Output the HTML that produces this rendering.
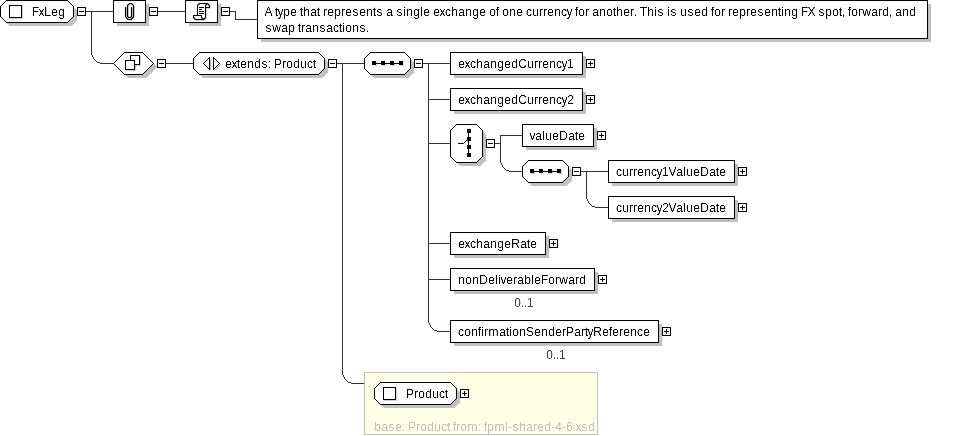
<!DOCTYPE html>
<html lang="en">
<head>
<meta charset="utf-8">
<title>FxLeg</title>
<style>
html,body{margin:0;padding:0;background:#fff;}
body{width:969px;height:436px;overflow:hidden;}
svg{display:block;}
svg text{font-family:"Liberation Sans",Arial,Helvetica,sans-serif;font-size:12px;}
</style>
</head>
<body>
<svg width="969" height="436" viewBox="0 0 969 436">
<defs><filter id="al" x="0" y="0" width="100%" height="100%" filterUnits="userSpaceOnUse" color-interpolation-filters="sRGB"><feComponentTransfer><feFuncA type="table" tableValues="0 0 0.5 1 1"/></feComponentTransfer></filter></defs>
<rect x="0" y="0" width="969" height="436" fill="#fff"/>
<rect x="86" y="11" width="27" height="1" fill="#333" shape-rendering="crispEdges"/>
<rect x="158" y="11" width="27" height="1" fill="#333" shape-rendering="crispEdges"/>
<path d="M230,11.5 H235.5 V19.5 H257" fill="none" stroke="#333" shape-rendering="crispEdges"/>
<path d="M91,12h1v43h-1zM92,55h1v2h-1zM93,57h1v2h-1zM94,59h1v1h-1zM95,60h1v1h-1zM96,61h1v1h-1zM97,62h3v1h-3zM100,63h13v1h-13z" fill="#333" shape-rendering="crispEdges"/>
<rect x="166" y="63" width="27" height="1" fill="#333" shape-rendering="crispEdges"/>
<rect x="337" y="63" width="27" height="1" fill="#333" shape-rendering="crispEdges"/>
<path d="M342,64h1v311h-1zM343,375h1v2h-1zM344,377h1v2h-1zM345,379h1v1h-1zM346,380h1v1h-1zM347,381h1v1h-1zM348,382h3v1h-3zM351,383h13v1h-13z" fill="#333" shape-rendering="crispEdges"/>
<rect x="423" y="63" width="27" height="1" fill="#333" shape-rendering="crispEdges"/>
<rect x="428" y="99" width="22" height="1" fill="#333" shape-rendering="crispEdges"/>
<rect x="428" y="143" width="22" height="1" fill="#333" shape-rendering="crispEdges"/>
<rect x="428" y="243" width="22" height="1" fill="#333" shape-rendering="crispEdges"/>
<rect x="428" y="279" width="22" height="1" fill="#333" shape-rendering="crispEdges"/>
<path d="M428,64h1v259h-1zM429,323h1v2h-1zM430,325h1v2h-1zM431,327h1v1h-1zM432,328h1v1h-1zM433,329h1v1h-1zM434,330h3v1h-3zM437,331h13v1h-13z" fill="#333" shape-rendering="crispEdges"/>
<rect x="495" y="143" width="6" height="1" fill="#333" shape-rendering="crispEdges"/>
<rect x="500" y="135" width="22" height="1" fill="#333" shape-rendering="crispEdges"/>
<path d="M500,135h1v28h-1zM501,163h1v2h-1zM502,165h1v2h-1zM503,167h1v1h-1zM504,168h1v1h-1zM505,169h1v1h-1zM506,170h3v1h-3zM509,171h13v1h-13z" fill="#333" shape-rendering="crispEdges"/>
<rect x="581" y="171" width="27" height="1" fill="#333" shape-rendering="crispEdges"/>
<path d="M586,172h1v27h-1zM587,199h1v2h-1zM588,201h1v2h-1zM589,203h1v1h-1zM590,204h1v1h-1zM591,205h1v1h-1zM592,206h3v1h-3zM595,207h13v1h-13z" fill="#333" shape-rendering="crispEdges"/>
<polygon points="10,4 70.5,4 77,10.5 77,20.5 71.5,26 10,26 4,20 4,10" fill="#c0c0c0"/>
<polygon points="6.5,0.5 67.5,0.5 73.5,6.5 73.5,16.5 67.5,22.5 6.5,22.5 0.5,16.5 0.5,6.5" fill="#fff" stroke="#000" stroke-width="1" shape-rendering="crispEdges"/>
<rect x="10.5" y="6.5" width="12" height="12" fill="none" stroke="#d0d0d0" shape-rendering="crispEdges"/>
<rect x="9.5" y="5.5" width="12" height="12" fill="#fff" stroke="#000" shape-rendering="crispEdges"/>
<rect x="77.5" y="7.5" width="8" height="8" fill="#fff" stroke="#000" shape-rendering="crispEdges"/>
<rect x="79" y="11" width="5" height="1" fill="#000" shape-rendering="crispEdges"/>
<rect x="117" y="4" width="32" height="22" fill="#c0c0c0" shape-rendering="crispEdges"/>
<rect x="113.5" y="0.5" width="32" height="22" fill="#fff" stroke="#000" stroke-width="1" shape-rendering="crispEdges"/>
<rect x="149.5" y="7.5" width="8" height="8" fill="#fff" stroke="#000" shape-rendering="crispEdges"/>
<rect x="151" y="11" width="5" height="1" fill="#000" shape-rendering="crispEdges"/>
<rect x="189" y="4" width="32" height="22" fill="#c0c0c0" shape-rendering="crispEdges"/>
<rect x="185.5" y="0.5" width="32" height="22" fill="#fff" stroke="#000" stroke-width="1" shape-rendering="crispEdges"/>
<rect x="221.5" y="7.5" width="8" height="8" fill="#fff" stroke="#000" shape-rendering="crispEdges"/>
<rect x="223" y="11" width="5" height="1" fill="#000" shape-rendering="crispEdges"/>
<rect x="261" y="4" width="670" height="38" fill="#c0c0c0" shape-rendering="crispEdges"/>
<rect x="257.5" y="0.5" width="670" height="38" fill="#fff" stroke="#000" stroke-width="1" shape-rendering="crispEdges"/>
<path d="M125.5,7 V16.5 L128,19.5 H131 L133.5,17 V5.5 L131.5,3.5 H129.5 L127.5,5.5 V16.5 L128.5,17.5 H130.5 L131.5,16.5 V7" transform="translate(1,1)" fill="none" stroke="#d4d4d4" stroke-width="1"/>
<path d="M125.5,7 V16.5 L128,19.5 H131 L133.5,17 V5.5 L131.5,3.5 H129.5 L127.5,5.5 V16.5 L128.5,17.5 H130.5 L131.5,16.5 V7" fill="none" stroke="#000" stroke-width="1.15"/>
<path d="M199.5,3.5 H207.5 L209.5,5.5 V7.5 H205.5 V17.5 L203.5,19.5 H195.5 L193.5,17.5 V15.5 H197.5 V5.5 Z" transform="translate(1,1)" fill="#d4d4d4" stroke="#d4d4d4" stroke-width="1"/>
<path d="M199.5,3.5 H207.5 L209.5,5.5 V7.5 H205.5 V17.5 L203.5,19.5 H195.5 L193.5,17.5 V15.5 H197.5 V5.5 Z" fill="#fff" stroke="#000" stroke-width="1.1" stroke-linejoin="round"/>
<path d="M205.5,7.5 V5.5 L207.5,3.5 M197.5,15.5 H201.5 V17.5 L203.5,19.5" fill="none" stroke="#000" stroke-width="1.1" stroke-linejoin="round"/>
<rect x="199" y="7" width="5" height="1" fill="#000" shape-rendering="crispEdges"/>
<rect x="199" y="9" width="3" height="1" fill="#000" shape-rendering="crispEdges"/>
<rect x="199" y="11" width="5" height="1" fill="#000" shape-rendering="crispEdges"/>
<rect x="199" y="13" width="5" height="1" fill="#000" shape-rendering="crispEdges"/>
<polygon points="117,67.0 128.0,56 145.5,56 157,66.5 157,67.5 146.5,78 128.0,78" fill="#c0c0c0"/>
<polygon points="113.5,63.5 124.5,52.5 142.5,52.5 153.5,63.5 142.5,74.5 124.5,74.5" fill="#fff" stroke="#000" shape-rendering="crispEdges"/>
<rect x="131.5" y="56.5" width="9" height="9" fill="none" stroke="#d0d0d0" shape-rendering="crispEdges"/>
<rect x="130.5" y="55.5" width="9" height="9" fill="#fff" stroke="#000" shape-rendering="crispEdges"/>
<path d="M135.5,65.5 V70.5 H126.5" fill="none" stroke="#d0d0d0" shape-rendering="crispEdges"/>
<rect x="125.5" y="60.5" width="9" height="9" fill="#fff" stroke="#000" shape-rendering="crispEdges"/>
<rect x="157.5" y="59.5" width="8" height="8" fill="#fff" stroke="#000" shape-rendering="crispEdges"/>
<rect x="159" y="63" width="5" height="1" fill="#000" shape-rendering="crispEdges"/>
<polygon points="203,56 321.5,56 328,62.5 328,72.5 322.5,78 203,78 197,72 197,62" fill="#c0c0c0"/>
<polygon points="199.5,52.5 318.5,52.5 324.5,58.5 324.5,68.5 318.5,74.5 199.5,74.5 193.5,68.5 193.5,58.5" fill="#fff" stroke="#000" stroke-width="1" shape-rendering="crispEdges"/>
<path d="M210.5,58.5 V70.5 M220.7,64.7 L214.7,70.7" fill="none" stroke="#bcbcbc" stroke-width="1.2"/>
<polygon points="203.5,63.5 209.5,57.5 209.5,69.5" fill="#fff" stroke="#000" shape-rendering="crispEdges"/>
<polygon points="213.5,57.5 219.5,63.5 213.5,69.5" fill="#fff" stroke="#000" shape-rendering="crispEdges"/>
<rect x="328.5" y="59.5" width="8" height="8" fill="#fff" stroke="#000" shape-rendering="crispEdges"/>
<rect x="330" y="63" width="5" height="1" fill="#000" shape-rendering="crispEdges"/>
<polygon points="374,56 407.5,56 414,62.5 414,72.5 408.5,78 374,78 368,72 368,62" fill="#c0c0c0"/>
<polygon points="370.5,52.5 404.5,52.5 410.5,58.5 410.5,68.5 404.5,74.5 370.5,74.5 364.5,68.5 364.5,58.5" fill="#fff" stroke="#000" stroke-width="1" shape-rendering="crispEdges"/>
<rect x="373" y="62" width="4" height="4" fill="#d8d8d8" shape-rendering="crispEdges"/>
<rect x="382" y="62" width="4" height="4" fill="#d8d8d8" shape-rendering="crispEdges"/>
<rect x="391" y="62" width="4" height="4" fill="#d8d8d8" shape-rendering="crispEdges"/>
<rect x="400" y="62" width="4" height="4" fill="#d8d8d8" shape-rendering="crispEdges"/>
<rect x="373" y="63" width="30" height="1" fill="#000" shape-rendering="crispEdges"/>
<rect x="372" y="61" width="4" height="4" fill="#000" shape-rendering="crispEdges"/>
<rect x="381" y="61" width="4" height="4" fill="#000" shape-rendering="crispEdges"/>
<rect x="390" y="61" width="4" height="4" fill="#000" shape-rendering="crispEdges"/>
<rect x="399" y="61" width="4" height="4" fill="#000" shape-rendering="crispEdges"/>
<rect x="414.5" y="59.5" width="8" height="8" fill="#fff" stroke="#000" shape-rendering="crispEdges"/>
<rect x="416" y="63" width="5" height="1" fill="#000" shape-rendering="crispEdges"/>
<rect x="454" y="56" width="132" height="22" fill="#c0c0c0" shape-rendering="crispEdges"/>
<rect x="450.5" y="52.5" width="132" height="22" fill="#fff" stroke="#000" stroke-width="1" shape-rendering="crispEdges"/>
<rect x="586.5" y="59.5" width="8" height="8" fill="#fff" stroke="#000" shape-rendering="crispEdges"/>
<rect x="588" y="63" width="5" height="1" fill="#000" shape-rendering="crispEdges"/>
<rect x="590" y="61" width="1" height="5" fill="#000" shape-rendering="crispEdges"/>
<rect x="454" y="92" width="132" height="22" fill="#c0c0c0" shape-rendering="crispEdges"/>
<rect x="450.5" y="88.5" width="132" height="22" fill="#fff" stroke="#000" stroke-width="1" shape-rendering="crispEdges"/>
<rect x="586.5" y="95.5" width="8" height="8" fill="#fff" stroke="#000" shape-rendering="crispEdges"/>
<rect x="588" y="99" width="5" height="1" fill="#000" shape-rendering="crispEdges"/>
<rect x="590" y="97" width="1" height="5" fill="#000" shape-rendering="crispEdges"/>
<polygon points="460,128 479.5,128 486,134.5 486,160.5 480.5,166 460,166 454,160 454,134" fill="#c0c0c0"/>
<polygon points="456.5,124.5 476.5,124.5 482.5,130.5 482.5,156.5 476.5,162.5 456.5,162.5 450.5,156.5 450.5,130.5" fill="#fff" stroke="#000" stroke-width="1" shape-rendering="crispEdges"/>
<rect x="468" y="130" width="1" height="26" fill="#000" shape-rendering="crispEdges"/>
<rect x="467" y="129" width="4" height="4" fill="#000" shape-rendering="crispEdges"/>
<rect x="467" y="137" width="4" height="4" fill="#000" shape-rendering="crispEdges"/>
<rect x="467" y="145" width="4" height="4" fill="#000" shape-rendering="crispEdges"/>
<rect x="467" y="153" width="4" height="4" fill="#000" shape-rendering="crispEdges"/>
<path d="M458,143.5 H463.5 L467,140" fill="none" stroke="#000"/>
<rect x="486.5" y="139.5" width="8" height="8" fill="#fff" stroke="#000" shape-rendering="crispEdges"/>
<rect x="488" y="143" width="5" height="1" fill="#000" shape-rendering="crispEdges"/>
<rect x="526" y="128" width="71" height="22" fill="#c0c0c0" shape-rendering="crispEdges"/>
<rect x="522.5" y="124.5" width="71" height="22" fill="#fff" stroke="#000" stroke-width="1" shape-rendering="crispEdges"/>
<rect x="597.5" y="131.5" width="8" height="8" fill="#fff" stroke="#000" shape-rendering="crispEdges"/>
<rect x="599" y="135" width="5" height="1" fill="#000" shape-rendering="crispEdges"/>
<rect x="601" y="133" width="1" height="5" fill="#000" shape-rendering="crispEdges"/>
<polygon points="532,164 565.5,164 572,170.5 572,180.5 566.5,186 532,186 526,180 526,170" fill="#c0c0c0"/>
<polygon points="528.5,160.5 562.5,160.5 568.5,166.5 568.5,176.5 562.5,182.5 528.5,182.5 522.5,176.5 522.5,166.5" fill="#fff" stroke="#000" stroke-width="1" shape-rendering="crispEdges"/>
<rect x="531" y="170" width="4" height="4" fill="#d8d8d8" shape-rendering="crispEdges"/>
<rect x="540" y="170" width="4" height="4" fill="#d8d8d8" shape-rendering="crispEdges"/>
<rect x="549" y="170" width="4" height="4" fill="#d8d8d8" shape-rendering="crispEdges"/>
<rect x="558" y="170" width="4" height="4" fill="#d8d8d8" shape-rendering="crispEdges"/>
<rect x="531" y="171" width="30" height="1" fill="#000" shape-rendering="crispEdges"/>
<rect x="530" y="169" width="4" height="4" fill="#000" shape-rendering="crispEdges"/>
<rect x="539" y="169" width="4" height="4" fill="#000" shape-rendering="crispEdges"/>
<rect x="548" y="169" width="4" height="4" fill="#000" shape-rendering="crispEdges"/>
<rect x="557" y="169" width="4" height="4" fill="#000" shape-rendering="crispEdges"/>
<rect x="572.5" y="167.5" width="8" height="8" fill="#fff" stroke="#000" shape-rendering="crispEdges"/>
<rect x="574" y="171" width="5" height="1" fill="#000" shape-rendering="crispEdges"/>
<rect x="612" y="164" width="126" height="22" fill="#c0c0c0" shape-rendering="crispEdges"/>
<rect x="608.5" y="160.5" width="126" height="22" fill="#fff" stroke="#000" stroke-width="1" shape-rendering="crispEdges"/>
<rect x="738.5" y="167.5" width="8" height="8" fill="#fff" stroke="#000" shape-rendering="crispEdges"/>
<rect x="740" y="171" width="5" height="1" fill="#000" shape-rendering="crispEdges"/>
<rect x="742" y="169" width="1" height="5" fill="#000" shape-rendering="crispEdges"/>
<rect x="612" y="200" width="126" height="22" fill="#c0c0c0" shape-rendering="crispEdges"/>
<rect x="608.5" y="196.5" width="126" height="22" fill="#fff" stroke="#000" stroke-width="1" shape-rendering="crispEdges"/>
<rect x="738.5" y="203.5" width="8" height="8" fill="#fff" stroke="#000" shape-rendering="crispEdges"/>
<rect x="740" y="207" width="5" height="1" fill="#000" shape-rendering="crispEdges"/>
<rect x="742" y="205" width="1" height="5" fill="#000" shape-rendering="crispEdges"/>
<rect x="454" y="236" width="95" height="22" fill="#c0c0c0" shape-rendering="crispEdges"/>
<rect x="450.5" y="232.5" width="95" height="22" fill="#fff" stroke="#000" stroke-width="1" shape-rendering="crispEdges"/>
<rect x="549.5" y="239.5" width="8" height="8" fill="#fff" stroke="#000" shape-rendering="crispEdges"/>
<rect x="551" y="243" width="5" height="1" fill="#000" shape-rendering="crispEdges"/>
<rect x="553" y="241" width="1" height="5" fill="#000" shape-rendering="crispEdges"/>
<rect x="454" y="272" width="144" height="22" fill="#c0c0c0" shape-rendering="crispEdges"/>
<rect x="450.5" y="268.5" width="144" height="22" fill="#fff" stroke="#000" stroke-width="1" shape-rendering="crispEdges"/>
<rect x="598.5" y="275.5" width="8" height="8" fill="#fff" stroke="#000" shape-rendering="crispEdges"/>
<rect x="600" y="279" width="5" height="1" fill="#000" shape-rendering="crispEdges"/>
<rect x="602" y="277" width="1" height="5" fill="#000" shape-rendering="crispEdges"/>
<rect x="454" y="324" width="208" height="22" fill="#c0c0c0" shape-rendering="crispEdges"/>
<rect x="450.5" y="320.5" width="208" height="22" fill="#fff" stroke="#000" stroke-width="1" shape-rendering="crispEdges"/>
<rect x="662.5" y="327.5" width="8" height="8" fill="#fff" stroke="#000" shape-rendering="crispEdges"/>
<rect x="664" y="331" width="5" height="1" fill="#000" shape-rendering="crispEdges"/>
<rect x="666" y="329" width="1" height="5" fill="#000" shape-rendering="crispEdges"/>
<rect x="364.5" y="372.5" width="233" height="62" fill="#ffffe6" stroke="#c0c0c0" stroke-width="1" shape-rendering="crispEdges"/>
<polygon points="384,386 453.5,386 460,392.5 460,402.5 454.5,408 384,408 378,402 378,392" fill="#c0c0c0"/>
<polygon points="380.5,382.5 450.5,382.5 456.5,388.5 456.5,398.5 450.5,404.5 380.5,404.5 374.5,398.5 374.5,388.5" fill="#fff" stroke="#000" stroke-width="1" shape-rendering="crispEdges"/>
<rect x="384.5" y="388.5" width="12" height="12" fill="none" stroke="#d0d0d0" shape-rendering="crispEdges"/>
<rect x="383.5" y="387.5" width="12" height="12" fill="#fff" stroke="#000" shape-rendering="crispEdges"/>
<rect x="460.5" y="389.5" width="8" height="8" fill="#fff" stroke="#000" shape-rendering="crispEdges"/>
<rect x="462" y="393" width="5" height="1" fill="#000" shape-rendering="crispEdges"/>
<rect x="464" y="391" width="1" height="5" fill="#000" shape-rendering="crispEdges"/>
<g filter="url(#al)"><g transform="scale(1,1.07)">
<text x="31.83 38.5 44.16 51.16 58.16" y="14.95">FxLeg</text>
<text x="264.5 272 274.83 277.5 283.16 290.16 297 299.83 303.16 310.16 316.83 320 323 327.16 334.16 341 345.16 352.5 359.16 366.16 372.83 376.5 383 386.16 393 396.5 403.17 406.16 413.16 420.17 423.16 430 433.16 439.5 445 451.16 458.16 465.16 472.16 479.16 486 489.16 495.83 499 502.16 509.16 516.16 523 526 532.16 539 543 547.16 554.16 561 566.5 572 574.83 578.16 585 589 592.16 599.16 606.16 612.83 616.16 623.16 630 633.83 637 639.83 647.16 654.17 657.5 664 667.17 670.5 677 680.16 687.5 694.16 701.16 708 710.83 714.16 721 725 728 732.16 739.16 746 750.16 757.5 764.16 771.16 777.83 781.17 784.16 791.16 798 800.83 807.5 815 818.5 825.16 832.16 838.83 841.83 845 847.83 851.16 858 862.17 871.16 878 882.16 888.83 892 895.16 902.16 909.16" y="14.95">A type that represents a single exchange of one currency for another. This is used for representing FX spot, forward, and</text>
<text x="265.5 272.17 281.16 288.16 295 297.83 301 305.16 312.16 319.5 326.16 333 338.83 342.17 345.16 352.16 359.5 365.83" y="29.91">swap transactions.</text>
<text x="225.16 231.5 236.83 240.16 247.16 254.16 261.5 267.83 271 274 282 286.16 293.16 300.16 307 312.83" y="63.55">extends: Product</text>
<text x="458.16 464.5 470 476.16 483.16 490.16 497.16 504.16 511.16 518.17 527.16 534 538 542.16 549.16 556 561.5 566.9" y="63.55">exchangedCurrency1</text>
<text x="458.16 464.5 470 476.16 483.16 490.16 497.16 504.16 511.16 518.17 527.16 534 538 542.16 549.16 556 561.5 567.16" y="97.2">exchangedCurrency2</text>
<text x="529.5 535.16 542.17 545.16 552.16 559.17 568.16 574.83 578.16" y="130.84">valueDate</text>
<text x="616 622.16 629 633 637.16 644.16 651 656.5 661.9 668.5 676.16 683.17 686.16 693.16 700.17 709.16 715.83 719.16" y="164.49">currency1ValueDate</text>
<text x="616 622.16 629 633 637.16 644.16 651 656.5 662.16 668.5 676.16 683.17 686.16 693.16 700.17 709.16 715.83 719.16" y="198.13">currency2ValueDate</text>
<text x="458.16 464.5 470 476.16 483.16 490.16 497.16 504.16 511.17 520.16 526.83 530.16" y="231.78">exchangeRate</text>
<text x="458.16 465.16 472.16 479.17 488.16 495.17 498.17 500.5 506.16 513 517.16 524.16 531.17 534.16 540.83 548.16 555 559.17 568.16 575 579.16" y="265.42">nonDeliverableForward</text>
<text x="514.16 520.83 523.83 526.9" y="286.92" fill="#404040">0..1</text>
<text x="458 464.16 471.16 477.83 481.17 484 488.5 499.16 505.83 509.17 512.16 519.16 526 534.16 541.16 548.16 555.16 562 566 574.16 581 584.83 587.5 593.17 602.16 608.83 612.16 619 623.16 630.16 637 643.16" y="314.02">confirmationSenderPartyReference</text>
<text x="546.16 552.83 555.83 558.9" y="335.51" fill="#404040">0..1</text>
<text x="406 414 418.16 425.16 432.16 439 444.83" y="371.96">Product</text>
<text x="374.16 381.16 388.5 395.16 401.83 405 408 416 420.16 427.16 434.16 441 446.83 450 452.83 456 460.16 467.5 477.83 481 483.83 487.16 494.5 505.17 508 512.5 519.16 526.16 533 537.16 544.16 551 555.16 562 566.16 572.83 575.5 581.5 588.16" y="402.8" fill="#c0c0c0">base: Product from: fpml-shared-4-6.xsd</text>
</g></g>
</svg>
</body>
</html>
